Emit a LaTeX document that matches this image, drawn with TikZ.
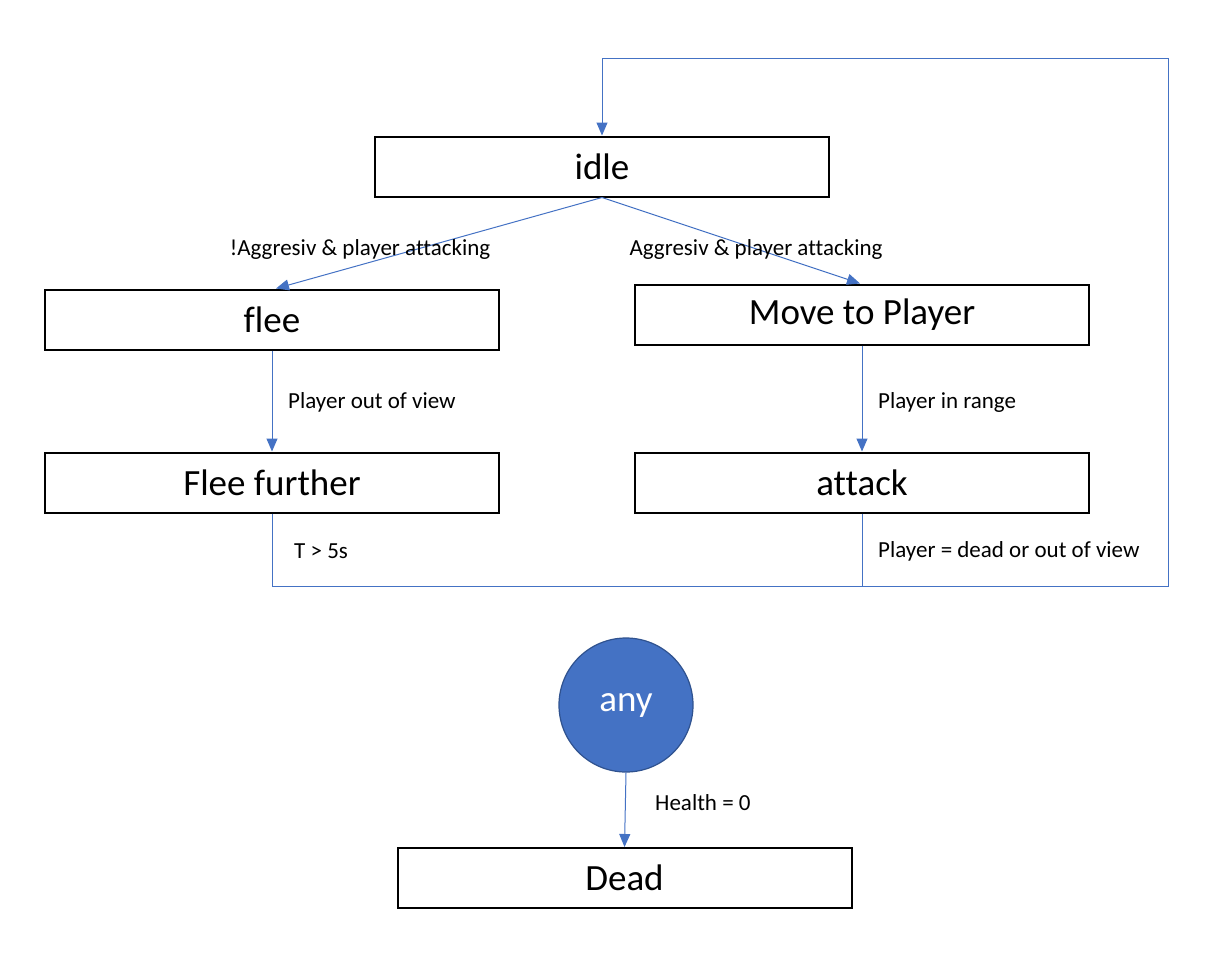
\documentclass[tikz,border=0pt]{standalone}
\usepackage{fontspec}
\setmainfont{Carlito}[Ligatures=NoCommon]
\usetikzlibrary{arrows.meta,calc}
\definecolor{lnblue}{HTML}{4472C4}
\definecolor{cirborder}{HTML}{2F528F}
\tikzset{
  statebox/.style={draw=black,line width=2pt,fill=white,minimum width=454pt,minimum height=60pt,inner sep=0pt,font=\fontsize{37}{44}\selectfont},
  conn/.style={draw=lnblue,line width=1pt},
  arr/.style={conn,-{Triangle[length=13pt,width=11pt]}},
  lbl/.style={font=\fontsize{23}{27}\selectfont,inner sep=0pt,text=black}
}
\begin{document}
\begin{tikzpicture}[x=1pt,y=-1pt]
\useasboundingbox (0,0) rectangle (1228,978);
\node[statebox] (idle) at (602,166.5) {\raisebox{-2pt}{idle}};
\node[statebox] (flee) at (272,319.5) {\raisebox{-2pt}{flee}};
\node[statebox] (move) at (862,314.5) {\raisebox{-2pt}{Move to Player}};
\node[statebox] (ff) at (272,482.5) {\raisebox{-1pt}{Flee further}};
\node[statebox] (attack) at (862,482.5) {\raisebox{-1pt}{attack}};
\node[statebox] (dead) at (624.5,878) {Dead};
\node[circle,draw=cirborder,line width=1.2pt,fill=lnblue,minimum size=134pt,inner sep=0pt,text=white,font=\fontsize{37}{44}\selectfont] (any) at (626,705) {\raisebox{-2pt}{any}};

\coordinate (br) at (1168,586);
\coordinate (jn) at (attack.south |- br);
\path (idle.north) ++(0,-77) coordinate (tl);

\draw[arr] (idle.south) -- ($(flee.north)+(4,0)$);
\draw[arr] (idle.south) -- ($(move.north)+(-2,0)$);
\draw[arr] (flee.south) -- (ff.north);
\draw[arr] (move.south) -- (attack.north);
\draw[conn] (ff.south) |- (jn);
\draw[arr] (attack.south) |- (br) |- (tl) -- (idle.north);
\draw[arr] (any.south) -- (dead.north);

\node[lbl] (l1) at (360,249) {!Aggresiv \& player attacking};
\node[lbl] (l2) at (756,249) {Aggresiv \& player attacking};
\node[lbl,anchor=west] (l3) at (288,402) {Player out of view};
\node[lbl,anchor=west] (l4) at (878,402) {Player in range};
\node[lbl,anchor=west] (l5) at (294,551) {T > 5s};
\node[lbl,anchor=west] (l6) at (878,551) {Player = dead or out of view};
\node[lbl,anchor=west] (l7) at (655,803) {Health = 0};
\end{tikzpicture}
\end{document}
